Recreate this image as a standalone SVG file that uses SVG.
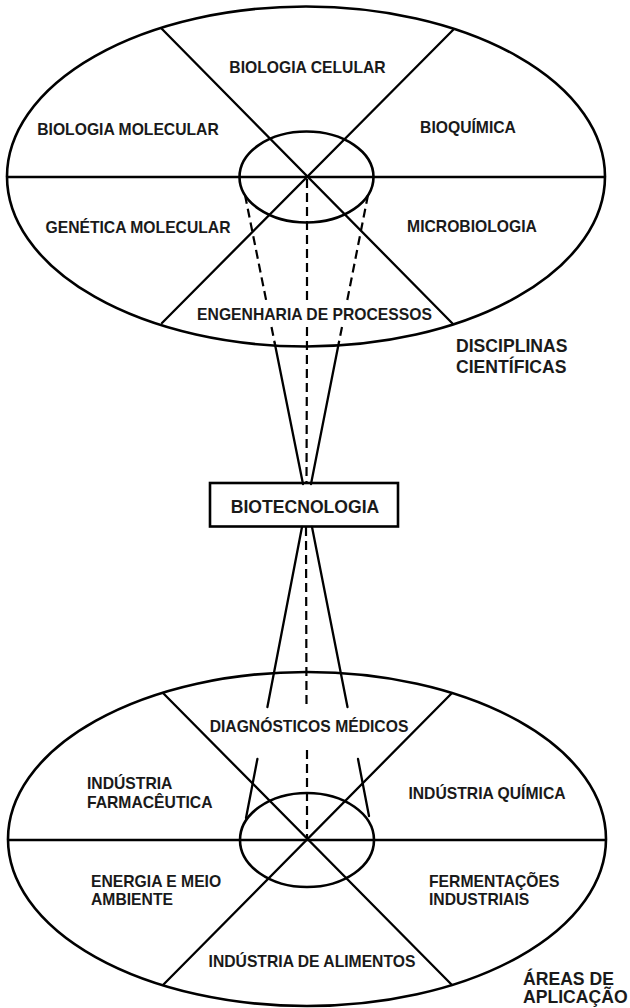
<svg xmlns="http://www.w3.org/2000/svg" width="630" height="1008" viewBox="0 0 630 1008">
<style>
.o{fill:none;stroke:#000;stroke-width:2.6}
.l{fill:none;stroke:#000;stroke-width:2.3;stroke-linecap:round}
.d{fill:none;stroke:#000;stroke-width:2.2;stroke-dasharray:9 5}
.t{font-family:"Liberation Sans",Arial,sans-serif;font-weight:bold;font-size:15.7px;fill:#1a1a1a}
.m{text-anchor:middle}
.b{font-size:17.6px}
</style>
<rect width="630" height="1008" fill="#fff"/>
<g id="disciplinas">
<ellipse class="o" cx="306" cy="176.5" rx="299" ry="170"/>
<line class="l" x1="7" y1="177" x2="605" y2="177"/>
<line class="l" x1="162" y1="29" x2="453" y2="324"/>
<line class="l" x1="453" y1="30" x2="162" y2="323"/>
<ellipse class="o" cx="306.5" cy="177" rx="67" ry="45.5"/>
<text class="t m" x="307.5" y="73">BIOLOGIA CELULAR</text>
<text class="t m" x="128" y="135">BIOLOGIA MOLECULAR</text>
<text class="t m" x="468" y="133">BIOQUÍMICA</text>
<text class="t m" x="138" y="233">GENÉTICA MOLECULAR</text>
<text class="t m" x="472" y="232">MICROBIOLOGIA</text>
<text class="t m" x="314.5" y="320">ENGENHARIA DE PROCESSOS</text>
<text class="t b" x="456" y="352">DISCIPLINAS</text>
<text class="t b" x="456" y="373">CIENTÍFICAS</text>
</g>
<g id="biotecnologia">
<rect class="o" x="210" y="483" width="188" height="43.5"/>
<text class="t m b" x="305" y="513">BIOTECNOLOGIA</text>
</g>
<g id="aplicacao">
<ellipse class="o" cx="307" cy="839" rx="299" ry="167"/>
<line class="l" x1="8" y1="840" x2="606" y2="840"/>
<line class="l" x1="163" y1="693" x2="452" y2="985"/>
<line class="l" x1="452" y1="693" x2="163" y2="985"/>
<ellipse class="o" cx="307" cy="840" rx="67" ry="47"/>
<text class="t m" x="309" y="732">DIAGNÓSTICOS MÉDICOS</text>
<text class="t" x="87" y="789">INDÚSTRIA</text>
<text class="t" x="87" y="808">FARMACÊUTICA</text>
<text class="t m" x="487" y="799">INDÚSTRIA QUÍMICA</text>
<text class="t" x="91" y="887">ENERGIA E MEIO</text>
<text class="t" x="91" y="905">AMBIENTE</text>
<text class="t" x="429" y="887">FERMENTAÇÕES</text>
<text class="t" x="429" y="905">INDUSTRIAIS</text>
<text class="t m" x="312" y="967">INDÚSTRIA DE ALIMENTOS</text>
<text class="t b" x="523" y="985">ÁREAS DE</text>
<text class="t b" x="523" y="1003">APLICAÇÃO</text>
</g>
<g id="connectors">
<line class="d" x1="245" y1="195" x2="266.7" y2="303"/>
<line class="d" x1="271.5" y1="327" x2="274.7" y2="343"/>
<line class="l" x1="274.7" y1="343" x2="303" y2="484"/>
<line class="d" x1="368" y1="195" x2="346.7" y2="303"/>
<line class="d" x1="342" y1="327" x2="338.8" y2="343"/>
<line class="l" x1="338.8" y1="343" x2="311" y2="484"/>
<line class="d" x1="307" y1="179" x2="307" y2="302"/>
<line class="d" x1="307" y1="327" x2="306.5" y2="483"/>
<line class="l" x1="302" y1="527" x2="267.4" y2="707"/>
<line class="l" x1="257.4" y1="759" x2="246" y2="818"/>
<line class="l" x1="312" y1="527" x2="347.5" y2="707"/>
<line class="l" x1="358" y1="759" x2="369" y2="816"/>
<line class="d" x1="306" y1="527" x2="306.5" y2="707"/>
<line class="d" x1="307" y1="750" x2="307" y2="838"/>
</g>
</svg>
